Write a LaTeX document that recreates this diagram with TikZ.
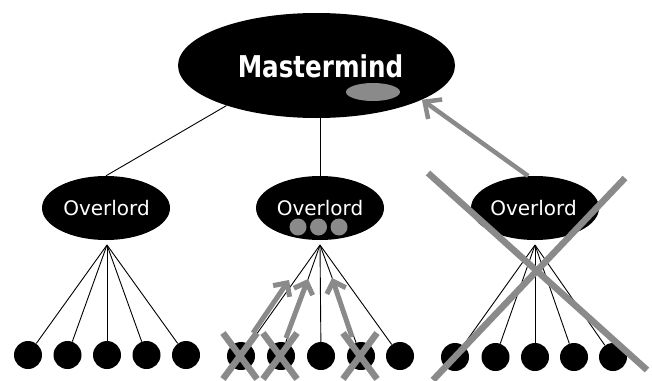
\documentclass[tikz,border=0pt]{standalone}
\usepackage{fontspec}
\setmainfont{DejaVu Sans}
\usetikzlibrary{shapes.geometric,arrows.meta}
\definecolor{xg}{RGB}{138,138,138}
\begin{document}
\begin{tikzpicture}[x=1pt,y=-1pt,
  boss/.style={ellipse,fill=black,draw=none,inner sep=0pt,minimum width=277pt,minimum height=105pt},
  lord/.style={ellipse,fill=black,draw=none,inner sep=0pt,minimum width=128pt,minimum height=64pt},
  lordtext/.style={text=white,font=\fontsize{20pt}{22pt}\selectfont,inner sep=0pt,anchor=base},
  mmtext/.style={text=white,font=\fontsize{30pt}{32pt}\selectfont\bfseries,inner sep=0pt,anchor=base},
  grayell/.style={ellipse,fill=xg,draw=none,inner sep=0pt,minimum width=54pt,minimum height=18pt},
  dot/.style={circle,fill=xg,draw=none,inner sep=0pt,minimum size=17pt},
  leaf/.style={circle,fill=black,draw=none,inner sep=0pt,minimum size=28pt},
  link/.style={draw=black,line width=0.9pt},
  garrow/.style={draw=xg,line width=5pt,-{Straight Barb[length=10pt,width=20pt]}},
  bigarrow/.style={draw=xg,line width=4.5pt,-{Straight Barb[length=13pt,width=24pt]}},
  cross/.style={draw=xg,line width=6.5pt},
  bigcross/.style={draw=xg,line width=6.5pt}
]
\useasboundingbox (0,0) rectangle (652,380);

% Mastermind
\node[boss] (mm) at (316.5,65.5) {};
\node[mmtext] (mmt) at (320.5,77) {\scalebox{0.82}[1]{Mastermind}};
\node[grayell] (mmg) at (373,92) {};

% Overlords
\node[lord] (ol1) at (106,208) {};
\node[lord] (ol2) at (320,208) {};
\node[lord] (ol3) at (535,208) {};
\node[lordtext] (t1) at (106.5,215) {Overlord};
\node[lordtext] (t2) at (320,215) {Overlord};
\node[lordtext] (t3) at (533.5,215) {Overlord};

% gray dots in middle overlord
\node[dot] (d1) at (298,227) {};
\node[dot] (d2) at (318.5,227) {};
\node[dot] (d3) at (339,227) {};

% links mastermind - overlords
\draw[link] (mm.204) -- (ol1.north);
\draw[link] (ol2.north) -- (ol2.north |- mm.south);

% apexes
\coordinate (p1) at (107,245);
\coordinate (p2) at (320,245);
\coordinate (p3) at (535,245);

% leaves
\foreach \i/\x in {1/28,2/67.5,3/107,4/146.5,5/186}{
  \node[leaf] (a\i) at (\x,355) {};
  \draw[link] (p1) -- (a\i);
}
\foreach \i/\x in {1/241,2/281,3/321,4/361,5/400}{
  \node[leaf] (b\i) at (\x,356) {};
  \draw[link] (p2) -- (b\i);
}
\foreach \i/\x in {1/455,2/495.5,3/535,4/574,5/613}{
  \node[leaf] (c\i) at (\x,357) {};
  \draw[link] (p3) -- (c\i);
}

% crosses on middle leaves
\foreach \x in {240,280,360}{
  \draw[cross] (\x-17,333) -- (\x+17,379);
  \draw[cross] (\x+17,333) -- (\x-17,379);
}

% gray arrows middle
\coordinate (s1) at (253,333);
\coordinate (e1) at (289,280);
\coordinate (s2) at (286,338);
\coordinate (e2) at (308,279);
\coordinate (s3) at (352,337);
\coordinate (e3) at (332,278);
\draw[garrow] (s1) -- (e1);
\draw[garrow] (s2) -- (e2);
\draw[garrow] (s3) -- (e3);

% big arrow from right overlord to mastermind
\draw[bigarrow] (ol3.102) -- (mm.-18);

% big cross over right group
\draw[bigcross] (428,173) -- (647,370);
\draw[bigcross] (625,178) -- (433,380);
\end{tikzpicture}
\end{document}
